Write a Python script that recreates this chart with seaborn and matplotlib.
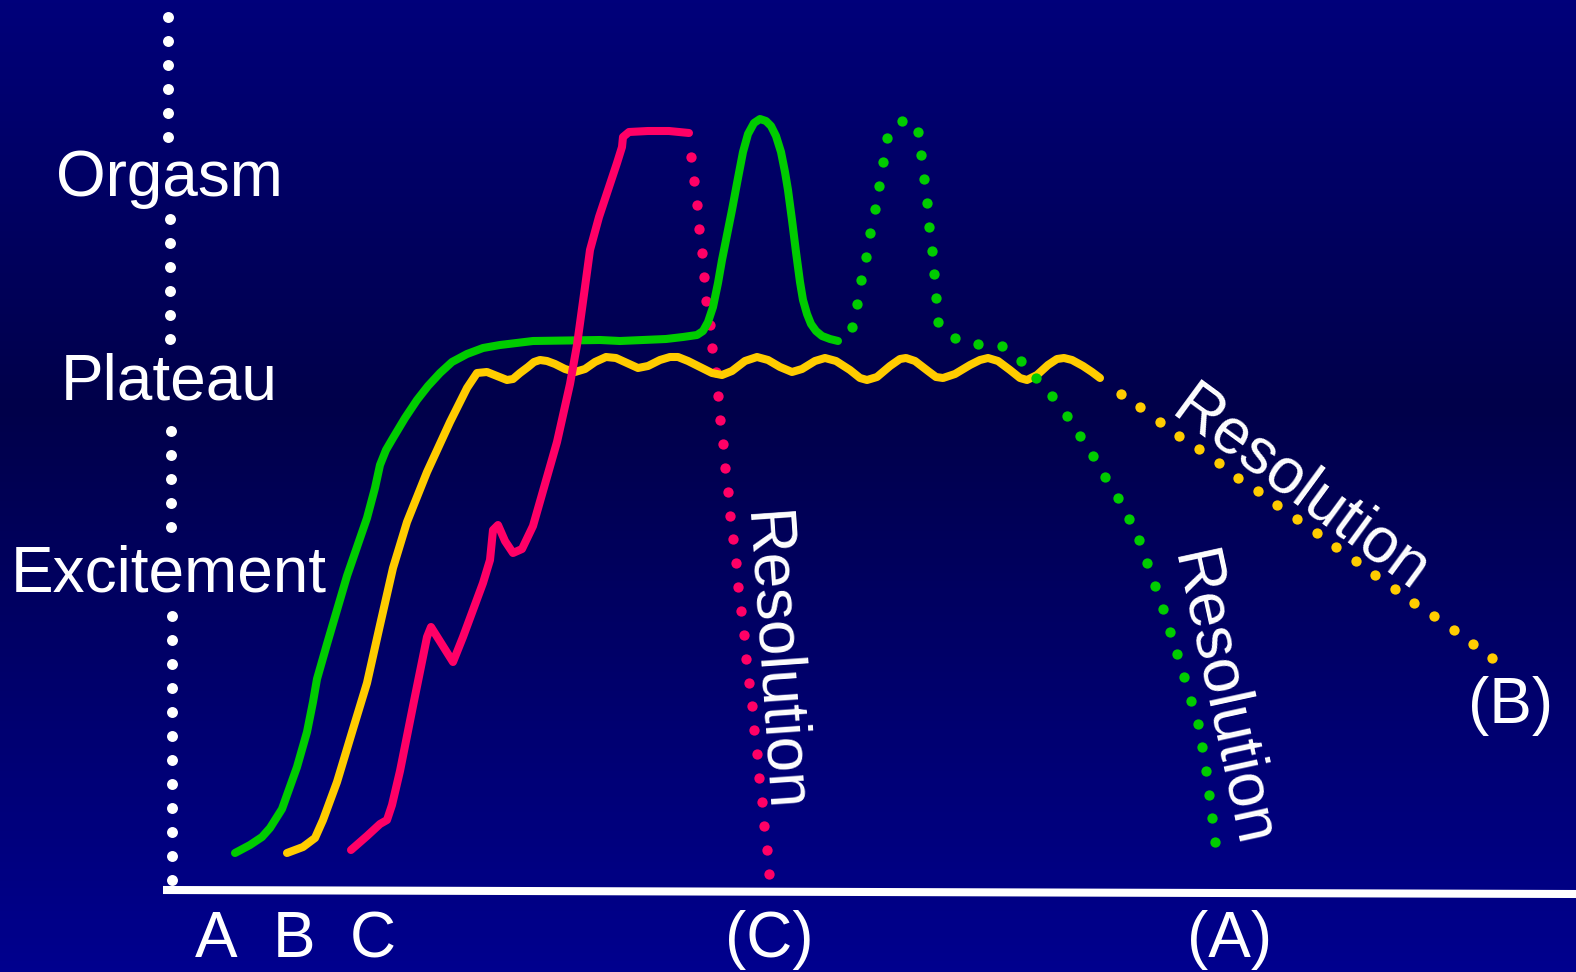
import numpy as np
import seaborn as sns
import matplotlib.pyplot as plt
from matplotlib.colors import LinearSegmentedColormap

# --- data (pixel space of the slide) ---
phase_labels = ["Orgasm", "Plateau", "Excitement"]
phase_label_y = [196, 399, 591]
bottom_labels = ["A", "B", "C", "(C)", "(A)"]
bottom_label_x = [216, 294, 373, 769, 1230]

axis_dot_x = [168] * 6 + [170] * 6 + [171] * 5 + [172] * 12
axis_dot_y = [17, 41, 65, 89, 113, 137, 219, 243, 267, 291, 315, 339,
              431, 455, 479, 503, 527, 616, 640, 664, 688, 712, 736, 760,
              784, 808, 832, 856, 880]
base_x = [163, 1576]
base_y = [890, 894]

# curve A (green)
green_x = [235, 250, 262, 270, 282, 297, 307, 313, 317, 327, 347, 367, 375, 380,
           386, 393, 405, 417, 428, 440, 452, 467, 483, 500, 533, 600, 620, 666,
           683, 697, 703, 708, 713, 718, 722, 732, 738, 743, 748, 754, 760, 766,
           771, 776, 781, 785, 788, 792, 796, 800, 803, 807, 811, 816, 822, 830, 838]
green_y = [853, 845, 837, 828, 809, 767, 732, 702, 679, 644, 576, 518, 488, 465,
           450, 438, 418, 400, 386, 373, 362, 354, 348, 345, 341, 340, 341, 339,
           337, 335, 331, 322, 307, 283, 260, 210, 178, 152, 134, 123, 119, 121,
           126, 136, 152, 172, 190, 220, 252, 282, 300, 314, 324, 331, 336, 339, 341]
green_dot_x = [852, 857, 861, 866, 870, 875, 879, 883, 887, 902, 918, 921, 924, 927,
               929, 932, 934, 936, 938, 955, 978, 1002, 1021, 1036, 1052, 1067, 1080,
               1093, 1105, 1118, 1129, 1139, 1147, 1155, 1163, 1170, 1177, 1184, 1191,
               1198, 1202, 1206, 1209, 1212, 1215]
green_dot_y = [327, 304, 280, 257, 233, 209, 186, 162, 138, 121, 132, 155, 179, 203,
               227, 251, 274, 298, 322, 338, 344, 346, 361, 378, 396, 416, 436,
               456, 477, 498, 519, 540, 563, 586, 609, 632, 654, 677, 701,
               724, 747, 771, 795, 818, 842]

# curve B (yellow)
yellow_x = [287, 303, 315, 323, 337, 353, 367, 380, 393, 407, 427, 450, 467, 477, 487,
            497, 507, 513, 520, 528, 534, 540, 547, 555, 565, 575, 585, 595, 606, 616,
            627, 638, 648, 660, 670, 678, 688, 700, 712, 722, 732, 745, 757, 768, 780,
            792, 802, 815, 825, 836, 850, 860, 867, 877, 890, 900, 906, 915, 928, 936,
            943, 955, 970, 980, 988, 998, 1010, 1020, 1027, 1037, 1048, 1057, 1064,
            1072, 1083, 1092, 1100]
yellow_y = [853, 847, 838, 820, 782, 729, 683, 625, 568, 522, 472, 422, 388, 373, 372,
            376, 380, 379, 373, 367, 362, 360, 361, 364, 369, 372, 369, 362, 357, 358,
            363, 368, 366, 360, 357, 357, 361, 367, 373, 375, 371, 361, 357, 360, 367,
            372, 369, 361, 358, 361, 370, 378, 380, 377, 366, 359, 358, 361, 371, 377,
            378, 374, 365, 360, 358, 361, 370, 378, 380, 375, 365, 359, 358,
            360, 366, 372, 378]
yellow_dot_x = [1121, 1140, 1160, 1179, 1199, 1219, 1238, 1258, 1277, 1297,
                1317, 1336, 1356, 1375, 1395, 1414, 1434, 1454, 1473, 1492]
yellow_dot_y = [394, 407, 422, 436, 449, 463, 478, 491, 505, 519,
                533, 547, 561, 575, 589, 603, 616, 630, 644, 658]

# curve C (pink)
pink_x = [351, 367, 380, 387, 392, 400, 413, 427, 431, 453, 463, 483, 490, 493, 498,
          505, 513, 522, 533, 543, 557, 570, 577, 585, 590, 599, 608, 617, 622, 623,
          629, 648, 669, 689]
pink_y = [850, 836, 824, 820, 805, 771, 706, 637, 627, 662, 637, 583, 560, 530, 525,
          541, 553, 549, 526, 491, 442, 384, 345, 287, 250, 217, 190, 163, 147, 137,
          132, 131, 131, 133]
pink_dot_x = [691, 694, 697, 699, 702, 704, 706, 710, 712, 716, 718, 720, 723, 725,
              728, 730, 733, 736, 738, 741, 744, 746, 749, 752, 754, 757, 759, 762,
              764, 767, 769]
pink_dot_y = [157, 181, 205, 229, 253, 277, 301, 325, 348, 372, 396, 420, 444, 468,
              492, 516, 539, 563, 587, 611, 635, 659, 683, 706, 730, 754, 778, 802,
              826, 850, 874]

GREEN = "#00CC00"
YELLOW = "#FFCC00"
PINK = "#FF0066"
WHITE = "#FFFFFF"

sns.set_style("white")
plt.rcParams["font.family"] = ["Liberation Sans", "DejaVu Sans"]

W, H = 1576, 972
fig = plt.figure(figsize=(W / 100, H / 100), dpi=100)
ax = fig.add_axes([0, 0, 1, 1])

# background gradient
bg = LinearSegmentedColormap.from_list(
    "bg", [(0.0, "#00007A"), (0.42, "#00004A"), (1.0, "#00008E")])
grad = np.linspace(0, 1, 256).reshape(-1, 1)
ax.imshow(grad, extent=[0, W, H, 0], aspect="auto", cmap=bg, zorder=0)

# axes of the diagram
sns.lineplot(x=base_x, y=base_y, sort=False, estimator=None, color=WHITE,
             linewidth=5.8, solid_capstyle="butt", ax=ax, zorder=2)
sns.scatterplot(x=axis_dot_x, y=axis_dot_y, color=WHITE, s=62, linewidth=0,
                ax=ax, zorder=2)

# dotted resolution paths
sns.scatterplot(x=pink_dot_x, y=pink_dot_y, color=PINK, s=55, linewidth=0,
                ax=ax, zorder=3)
line_kw = dict(sort=False, estimator=None, linewidth=5.8,
               solid_capstyle="round", solid_joinstyle="round", ax=ax)
sns.lineplot(x=green_x, y=green_y, color=GREEN, zorder=4, **line_kw)
sns.lineplot(x=yellow_x, y=yellow_y, color=YELLOW, zorder=5, **line_kw)
sns.lineplot(x=pink_x, y=pink_y, color=PINK, zorder=6, **line_kw)
sns.scatterplot(x=green_dot_x, y=green_dot_y, color=GREEN, s=55, linewidth=0,
                ax=ax, zorder=7)
sns.scatterplot(x=yellow_dot_x, y=yellow_dot_y, color=YELLOW, s=55, linewidth=0,
                ax=ax, zorder=7)

# text
fs = 46
for lab, y in zip(phase_labels, phase_label_y):
    ax.text(169, y, lab, color=WHITE, fontsize=fs, ha="center", va="baseline", zorder=8)
for lab, x in zip(bottom_labels, bottom_label_x):
    ax.text(x, 957, lab, color=WHITE, fontsize=fs, ha="center", va="baseline", zorder=8)

ax.text(773, 662, "Resolution", color=WHITE, fontsize=fs, rotation=-86,
        rotation_mode="anchor", ha="center", va="center", zorder=8)
ax.text(1221, 700, "Resolution", color=WHITE, fontsize=fs, rotation=-77.7,
        rotation_mode="anchor", ha="center", va="center", zorder=8)
ax.text(1301, 490, "Resolution", color=WHITE, fontsize=fs, rotation=-36.3,
        rotation_mode="anchor", ha="center", va="center", zorder=8)
ax.text(1511, 723, "(B)", color=WHITE, fontsize=fs, ha="center", va="baseline", zorder=8)

ax.set_xlim(0, W)
ax.set_ylim(H, 0)
ax.axis("off")

fig.savefig("out.png", dpi=100)
